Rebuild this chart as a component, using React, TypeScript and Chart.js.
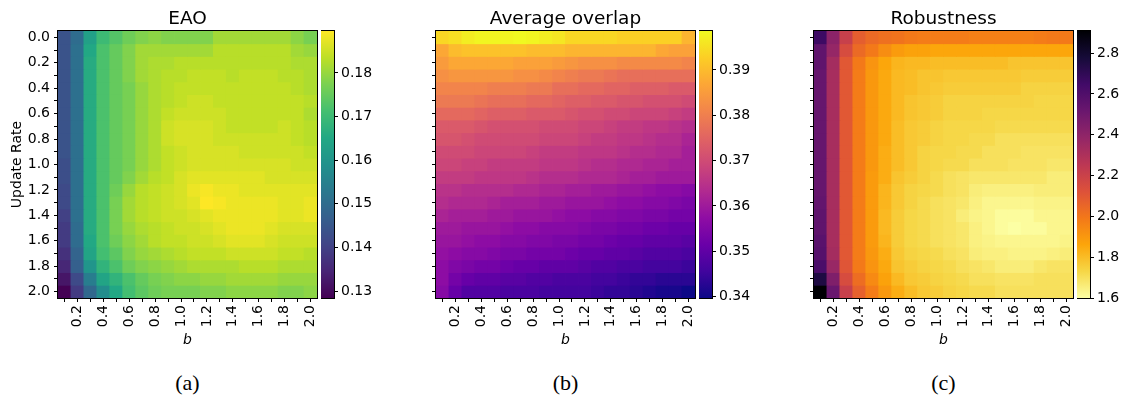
import React, { useEffect, useRef } from 'react';
import { Chart, registerables } from 'chart.js';

Chart.register(...registerables);

// ---------------- data ----------------
const bValues = [0.1, 0.2, 0.3, 0.4, 0.5, 0.6, 0.7, 0.8, 0.9, 1.0, 1.1, 1.2, 1.3, 1.4, 1.5, 1.6, 1.7, 1.8, 1.9, 2.0];
const updateRates = [0.0, 0.1, 0.2, 0.3, 0.4, 0.5, 0.6, 0.7, 0.8, 0.9, 1.0, 1.1, 1.2, 1.3, 1.4, 1.5, 1.6, 1.7, 1.8, 1.9, 2.0];

const eaoValues = [
  [0.144, 0.150, 0.163, 0.170, 0.173, 0.176, 0.178, 0.179, 0.178, 0.178, 0.178, 0.178, 0.181, 0.181, 0.181, 0.181, 0.181, 0.181, 0.179, 0.177],
  [0.144, 0.151, 0.165, 0.172, 0.175, 0.178, 0.181, 0.181, 0.181, 0.181, 0.181, 0.181, 0.183, 0.183, 0.183, 0.183, 0.183, 0.183, 0.181, 0.180],
  [0.144, 0.151, 0.166, 0.172, 0.175, 0.178, 0.181, 0.182, 0.182, 0.183, 0.183, 0.183, 0.183, 0.183, 0.183, 0.183, 0.183, 0.183, 0.182, 0.182],
  [0.144, 0.151, 0.166, 0.172, 0.175, 0.178, 0.181, 0.182, 0.183, 0.183, 0.184, 0.184, 0.184, 0.183, 0.184, 0.184, 0.184, 0.183, 0.183, 0.182],
  [0.144, 0.151, 0.166, 0.172, 0.175, 0.177, 0.180, 0.182, 0.183, 0.184, 0.184, 0.184, 0.184, 0.184, 0.184, 0.184, 0.184, 0.184, 0.183, 0.182],
  [0.144, 0.151, 0.166, 0.172, 0.175, 0.177, 0.180, 0.182, 0.183, 0.184, 0.185, 0.185, 0.184, 0.184, 0.184, 0.184, 0.184, 0.184, 0.184, 0.183],
  [0.144, 0.151, 0.166, 0.172, 0.175, 0.177, 0.180, 0.182, 0.184, 0.185, 0.185, 0.185, 0.185, 0.184, 0.184, 0.184, 0.184, 0.184, 0.184, 0.182],
  [0.144, 0.151, 0.166, 0.172, 0.175, 0.177, 0.180, 0.182, 0.185, 0.186, 0.186, 0.186, 0.185, 0.184, 0.184, 0.184, 0.184, 0.185, 0.184, 0.183],
  [0.144, 0.151, 0.166, 0.172, 0.175, 0.177, 0.180, 0.182, 0.185, 0.186, 0.186, 0.186, 0.185, 0.185, 0.185, 0.185, 0.185, 0.185, 0.184, 0.183],
  [0.144, 0.151, 0.166, 0.172, 0.175, 0.177, 0.180, 0.182, 0.184, 0.185, 0.186, 0.186, 0.186, 0.186, 0.185, 0.185, 0.185, 0.185, 0.185, 0.184],
  [0.143, 0.151, 0.166, 0.172, 0.175, 0.177, 0.180, 0.182, 0.184, 0.185, 0.186, 0.186, 0.186, 0.186, 0.186, 0.186, 0.186, 0.186, 0.185, 0.185],
  [0.143, 0.151, 0.166, 0.172, 0.175, 0.178, 0.181, 0.183, 0.184, 0.186, 0.187, 0.187, 0.187, 0.187, 0.187, 0.187, 0.186, 0.186, 0.186, 0.186],
  [0.142, 0.151, 0.166, 0.172, 0.176, 0.180, 0.183, 0.184, 0.185, 0.186, 0.188, 0.189, 0.188, 0.188, 0.187, 0.187, 0.187, 0.187, 0.187, 0.187],
  [0.142, 0.151, 0.166, 0.172, 0.177, 0.181, 0.183, 0.184, 0.185, 0.186, 0.187, 0.1896, 0.189, 0.188, 0.188, 0.188, 0.188, 0.187, 0.187, 0.188],
  [0.140, 0.151, 0.166, 0.172, 0.177, 0.181, 0.183, 0.184, 0.185, 0.185, 0.186, 0.187, 0.188, 0.188, 0.188, 0.188, 0.188, 0.187, 0.187, 0.188],
  [0.139, 0.150, 0.166, 0.172, 0.177, 0.180, 0.182, 0.183, 0.184, 0.185, 0.185, 0.186, 0.187, 0.188, 0.188, 0.188, 0.187, 0.186, 0.186, 0.186],
  [0.139, 0.150, 0.165, 0.172, 0.176, 0.179, 0.181, 0.183, 0.184, 0.184, 0.185, 0.185, 0.186, 0.187, 0.187, 0.187, 0.186, 0.185, 0.185, 0.185],
  [0.137, 0.148, 0.164, 0.171, 0.174, 0.178, 0.180, 0.181, 0.182, 0.183, 0.184, 0.184, 0.184, 0.185, 0.185, 0.185, 0.185, 0.184, 0.184, 0.183],
  [0.135, 0.147, 0.160, 0.168, 0.172, 0.176, 0.178, 0.179, 0.180, 0.181, 0.182, 0.182, 0.182, 0.182, 0.183, 0.183, 0.183, 0.182, 0.182, 0.182],
  [0.132, 0.142, 0.154, 0.164, 0.168, 0.172, 0.175, 0.177, 0.178, 0.179, 0.179, 0.180, 0.180, 0.181, 0.181, 0.181, 0.181, 0.180, 0.180, 0.180],
  [0.1284, 0.139, 0.149, 0.158, 0.165, 0.171, 0.174, 0.176, 0.177, 0.177, 0.177, 0.178, 0.178, 0.179, 0.179, 0.179, 0.179, 0.178, 0.178, 0.179],
];

const overlapValues = [
  [0.394, 0.395, 0.397, 0.398, 0.398, 0.398, 0.3986, 0.398, 0.397, 0.396, 0.394, 0.394, 0.394, 0.394, 0.393, 0.393, 0.393, 0.393, 0.393, 0.389],
  [0.387, 0.390, 0.391, 0.391, 0.391, 0.391, 0.391, 0.390, 0.390, 0.390, 0.389, 0.389, 0.389, 0.389, 0.389, 0.389, 0.389, 0.387, 0.386, 0.386],
  [0.385, 0.387, 0.387, 0.387, 0.387, 0.387, 0.386, 0.386, 0.386, 0.385, 0.384, 0.383, 0.383, 0.383, 0.382, 0.382, 0.382, 0.382, 0.382, 0.381],
  [0.383, 0.384, 0.384, 0.384, 0.384, 0.384, 0.383, 0.383, 0.382, 0.381, 0.380, 0.379, 0.379, 0.378, 0.377, 0.377, 0.377, 0.377, 0.377, 0.377],
  [0.381, 0.381, 0.381, 0.381, 0.380, 0.380, 0.380, 0.379, 0.379, 0.377, 0.377, 0.376, 0.376, 0.375, 0.375, 0.374, 0.374, 0.374, 0.373, 0.373],
  [0.379, 0.379, 0.379, 0.378, 0.377, 0.377, 0.377, 0.376, 0.376, 0.375, 0.374, 0.374, 0.373, 0.373, 0.372, 0.372, 0.371, 0.371, 0.371, 0.370],
  [0.376, 0.376, 0.376, 0.375, 0.374, 0.374, 0.374, 0.373, 0.373, 0.373, 0.372, 0.371, 0.371, 0.370, 0.370, 0.369, 0.369, 0.369, 0.368, 0.367],
  [0.373, 0.373, 0.373, 0.372, 0.371, 0.371, 0.371, 0.371, 0.370, 0.370, 0.370, 0.369, 0.369, 0.368, 0.367, 0.367, 0.366, 0.366, 0.365, 0.364],
  [0.372, 0.372, 0.371, 0.370, 0.370, 0.370, 0.370, 0.370, 0.369, 0.369, 0.369, 0.368, 0.367, 0.367, 0.366, 0.366, 0.365, 0.364, 0.364, 0.362],
  [0.370, 0.370, 0.370, 0.369, 0.369, 0.369, 0.369, 0.368, 0.367, 0.367, 0.367, 0.366, 0.366, 0.366, 0.365, 0.364, 0.364, 0.363, 0.363, 0.361],
  [0.369, 0.369, 0.368, 0.368, 0.367, 0.367, 0.367, 0.367, 0.366, 0.366, 0.366, 0.365, 0.364, 0.364, 0.363, 0.363, 0.362, 0.362, 0.361, 0.361],
  [0.367, 0.367, 0.367, 0.366, 0.366, 0.366, 0.366, 0.365, 0.364, 0.364, 0.364, 0.363, 0.363, 0.363, 0.362, 0.361, 0.361, 0.360, 0.360, 0.360],
  [0.365, 0.365, 0.364, 0.364, 0.364, 0.364, 0.363, 0.363, 0.362, 0.362, 0.361, 0.361, 0.360, 0.360, 0.359, 0.359, 0.358, 0.357, 0.357, 0.356],
  [0.364, 0.363, 0.363, 0.363, 0.362, 0.361, 0.361, 0.361, 0.360, 0.360, 0.359, 0.359, 0.359, 0.358, 0.357, 0.357, 0.356, 0.356, 0.355, 0.354],
  [0.362, 0.361, 0.361, 0.361, 0.360, 0.360, 0.359, 0.359, 0.359, 0.358, 0.357, 0.357, 0.356, 0.356, 0.355, 0.355, 0.354, 0.354, 0.353, 0.353],
  [0.360, 0.360, 0.359, 0.359, 0.359, 0.358, 0.357, 0.357, 0.356, 0.356, 0.356, 0.355, 0.354, 0.354, 0.353, 0.353, 0.352, 0.352, 0.351, 0.351],
  [0.359, 0.359, 0.358, 0.357, 0.357, 0.356, 0.356, 0.355, 0.355, 0.354, 0.354, 0.353, 0.353, 0.352, 0.351, 0.351, 0.350, 0.350, 0.350, 0.349],
  [0.358, 0.357, 0.356, 0.356, 0.355, 0.354, 0.354, 0.353, 0.353, 0.353, 0.352, 0.351, 0.351, 0.350, 0.350, 0.349, 0.348, 0.348, 0.348, 0.347],
  [0.357, 0.355, 0.354, 0.353, 0.353, 0.352, 0.351, 0.351, 0.350, 0.350, 0.350, 0.349, 0.348, 0.348, 0.347, 0.347, 0.346, 0.346, 0.346, 0.345],
  [0.357, 0.353, 0.351, 0.350, 0.350, 0.349, 0.349, 0.348, 0.348, 0.347, 0.347, 0.347, 0.346, 0.346, 0.345, 0.344, 0.344, 0.343, 0.343, 0.343],
  [0.356, 0.351, 0.348, 0.348, 0.348, 0.347, 0.347, 0.347, 0.346, 0.346, 0.346, 0.346, 0.345, 0.344, 0.344, 0.343, 0.342, 0.341, 0.341, 0.3397],
];

const robustnessValues = [
  [2.66, 2.41, 2.21, 2.08, 2.04, 2.02, 2.01, 1.99, 1.98, 1.98, 1.98, 1.98, 1.97, 1.97, 1.97, 1.97, 1.97, 1.98, 1.99, 1.99],
  [2.55, 2.38, 2.15, 2.04, 1.99, 1.93, 1.89, 1.87, 1.87, 1.86, 1.86, 1.86, 1.86, 1.86, 1.86, 1.86, 1.86, 1.86, 1.86, 1.86],
  [2.55, 2.33, 2.10, 1.99, 1.91, 1.86, 1.82, 1.81, 1.81, 1.80, 1.80, 1.80, 1.80, 1.80, 1.80, 1.78, 1.78, 1.78, 1.78, 1.78],
  [2.53, 2.32, 2.10, 1.98, 1.90, 1.85, 1.81, 1.80, 1.78, 1.78, 1.77, 1.77, 1.77, 1.77, 1.77, 1.77, 1.76, 1.76, 1.76, 1.76],
  [2.53, 2.32, 2.10, 1.98, 1.90, 1.85, 1.81, 1.80, 1.78, 1.77, 1.76, 1.76, 1.76, 1.76, 1.76, 1.76, 1.74, 1.74, 1.74, 1.74],
  [2.53, 2.32, 2.10, 1.98, 1.90, 1.85, 1.81, 1.78, 1.77, 1.76, 1.74, 1.74, 1.74, 1.74, 1.74, 1.74, 1.74, 1.73, 1.73, 1.73],
  [2.53, 2.32, 2.10, 1.98, 1.90, 1.85, 1.81, 1.78, 1.77, 1.76, 1.74, 1.74, 1.74, 1.73, 1.73, 1.73, 1.73, 1.73, 1.73, 1.73],
  [2.53, 2.32, 2.10, 1.98, 1.90, 1.85, 1.80, 1.77, 1.76, 1.74, 1.73, 1.73, 1.73, 1.73, 1.72, 1.72, 1.72, 1.72, 1.72, 1.72],
  [2.53, 2.32, 2.10, 1.98, 1.90, 1.85, 1.80, 1.77, 1.76, 1.74, 1.73, 1.73, 1.72, 1.72, 1.70, 1.70, 1.70, 1.70, 1.70, 1.70],
  [2.53, 2.32, 2.10, 1.98, 1.90, 1.84, 1.80, 1.77, 1.74, 1.73, 1.73, 1.72, 1.72, 1.70, 1.70, 1.70, 1.69, 1.69, 1.69, 1.69],
  [2.53, 2.32, 2.10, 1.98, 1.90, 1.84, 1.80, 1.77, 1.74, 1.73, 1.72, 1.72, 1.70, 1.70, 1.70, 1.69, 1.69, 1.69, 1.68, 1.68],
  [2.53, 2.32, 2.10, 1.98, 1.89, 1.84, 1.78, 1.76, 1.74, 1.72, 1.70, 1.69, 1.68, 1.68, 1.68, 1.68, 1.68, 1.68, 1.66, 1.66],
  [2.53, 2.32, 2.10, 1.98, 1.89, 1.82, 1.77, 1.74, 1.73, 1.72, 1.70, 1.69, 1.66, 1.65, 1.65, 1.65, 1.65, 1.66, 1.66, 1.66],
  [2.54, 2.32, 2.10, 1.98, 1.89, 1.82, 1.77, 1.74, 1.72, 1.70, 1.69, 1.68, 1.65, 1.63, 1.63, 1.63, 1.63, 1.64, 1.64, 1.64],
  [2.55, 2.32, 2.10, 1.98, 1.89, 1.81, 1.76, 1.73, 1.72, 1.70, 1.69, 1.66, 1.64, 1.63, 1.61, 1.61, 1.61, 1.63, 1.63, 1.63],
  [2.55, 2.32, 2.10, 1.98, 1.89, 1.81, 1.76, 1.73, 1.72, 1.70, 1.69, 1.68, 1.65, 1.63, 1.61, 1.60, 1.61, 1.61, 1.63, 1.63],
  [2.57, 2.32, 2.10, 1.98, 1.89, 1.82, 1.76, 1.73, 1.72, 1.70, 1.69, 1.68, 1.65, 1.64, 1.63, 1.63, 1.63, 1.63, 1.63, 1.64],
  [2.58, 2.33, 2.10, 1.98, 1.90, 1.84, 1.77, 1.74, 1.73, 1.72, 1.70, 1.69, 1.66, 1.65, 1.65, 1.64, 1.64, 1.64, 1.65, 1.66],
  [2.62, 2.37, 2.11, 1.99, 1.91, 1.85, 1.78, 1.76, 1.74, 1.73, 1.72, 1.70, 1.69, 1.68, 1.66, 1.66, 1.66, 1.68, 1.69, 1.69],
  [2.75, 2.45, 2.15, 2.03, 1.94, 1.87, 1.81, 1.77, 1.76, 1.74, 1.73, 1.72, 1.70, 1.70, 1.69, 1.69, 1.69, 1.70, 1.70, 1.70],
  [2.908, 2.52, 2.21, 2.07, 1.98, 1.90, 1.84, 1.80, 1.77, 1.76, 1.74, 1.73, 1.72, 1.72, 1.70, 1.70, 1.70, 1.70, 1.70, 1.70],
];

const eaoTicks = [0.13, 0.14, 0.15, 0.16, 0.17, 0.18];
const overlapTicks = [0.34, 0.35, 0.36, 0.37, 0.38, 0.39];
const robustnessTicks = [1.6, 1.8, 2.0, 2.2, 2.4, 2.6, 2.8];

// ---------------- colormaps ----------------
const VIRIDIS = ['#440154', '#482475', '#414487', '#355f8d', '#2a788e', '#21918c', '#22a884', '#44bf70', '#7ad151', '#bddf26', '#fde725'];
const PLASMA = ['#0d0887', '#41049d', '#6a00a8', '#8f0da4', '#b12a90', '#cc4778', '#e16462', '#f2844b', '#fca636', '#fcce25', '#f0f921'];
const INFERNO = ['#000004', '#160b39', '#420a68', '#6a176e', '#932667', '#bc3754', '#dd513a', '#f37819', '#fca50a', '#f6d746', '#fcffa4'];
const INFERNO_R = INFERNO.slice().reverse();

function hexToRgb(h: string) {
  return [parseInt(h.slice(1, 3), 16), parseInt(h.slice(3, 5), 16), parseInt(h.slice(5, 7), 16)];
}
function colorAt(stops: string[], t: number) {
  const tt = Math.max(0, Math.min(1, t));
  const pos = tt * (stops.length - 1);
  const i = Math.min(stops.length - 2, Math.floor(pos));
  const f = pos - i;
  const a = hexToRgb(stops[i]);
  const b = hexToRgb(stops[i + 1]);
  const c = a.map((v, k) => Math.round(v + (b[k] - v) * f));
  return `rgb(${c[0]},${c[1]},${c[2]})`;
}

// ---------------- layout ----------------
const FONT = "'DejaVu Sans', sans-serif";
const TICK_SIZE = 14;
const TITLE_SIZE = 18.5;
const PLOT_TOP = 31;
const PLOT_BOTTOM = 298;
const PLOT_W = 259;
const Y_AXIS_W = 58;
const X_AXIS_H = 51;
const PAD_R = 14;
const CB_W = 13;
const CB_AXIS_W = 50;

const framePlugin = {
  id: 'frame',
  afterDraw(chart: any) {
    const { ctx, chartArea: a } = chart;
    ctx.save();
    ctx.strokeStyle = '#000';
    ctx.lineWidth = 1;
    ctx.strokeRect(a.left - 0.5, a.top - 0.5, a.right - a.left + 1, a.bottom - a.top + 1);
    ctx.restore();
  },
};

function Heatmap(props: { left: number; title: string; values: number[][]; cmap: string[]; showYLabels: boolean }) {
  const ref = useRef<HTMLCanvasElement>(null);
  const W = Y_AXIS_W + PLOT_W + PAD_R;
  const H = PLOT_BOTTOM + X_AXIS_H;
  useEffect(() => {
    const { values, cmap, title, showYLabels } = props;
    const flat = values.flat();
    const vmin = Math.min(...flat);
    const vmax = Math.max(...flat);
    const bLabels = bValues.map((v) => v.toFixed(1));
    const titlePadTop = 7.9;
    const chart = new Chart(ref.current as HTMLCanvasElement, {
      type: 'bar',
      data: {
        labels: bLabels,
        datasets: updateRates.map((rate, r) => ({
          label: rate.toFixed(1),
          data: bValues.map(() => [r - 0.5, r + 0.5]),
          backgroundColor: values[r].map((v) => colorAt(cmap, (v - vmin) / (vmax - vmin))),
          borderWidth: 0,
          grouped: false,
          barPercentage: 1,
          categoryPercentage: 1,
          inflateAmount: 0.4,
        })) as any,
      },
      options: {
        responsive: false,
        animation: false,
        events: [],
        layout: { padding: { left: 0, right: PAD_R, top: 0, bottom: 0 } },
        plugins: {
          legend: { display: false },
          tooltip: { enabled: false },
          title: {
            display: true,
            text: title,
            fullSize: false,
            color: '#000',
            font: { family: FONT, size: TITLE_SIZE, weight: 'normal', lineHeight: 1.2 },
            padding: { top: titlePadTop, bottom: PLOT_TOP - titlePadTop - TITLE_SIZE * 1.2 },
          },
        },
        scales: {
          x: {
            type: 'category',
            offset: true,
            afterFit: (s: any) => {
              s.height = X_AXIS_H;
            },
            grid: { offset: false, drawOnChartArea: false, tickLength: 4, color: '#000', tickColor: '#000' },
            border: { display: false },
            ticks: {
              autoSkip: false,
              minRotation: 90,
              maxRotation: 90,
              padding: 3,
              color: '#000',
              font: { family: FONT, size: TICK_SIZE },
              callback: (_v: any, i: number) => (i % 2 === 1 ? bLabels[i] : ''),
            },
            title: {
              display: true,
              text: 'b',
              color: '#000',
              font: { family: FONT, size: TICK_SIZE, style: 'italic', lineHeight: 1.2 },
              padding: { top: 0, bottom: 0 },
            },
          },
          y: {
            type: 'linear',
            min: -0.5,
            max: updateRates.length - 0.5,
            reverse: true,
            afterFit: (s: any) => {
              s.width = Y_AXIS_W;
            },
            afterBuildTicks: (s: any) => {
              s.ticks = updateRates.map((_r, i) => ({ value: i }));
            },
            grid: { drawOnChartArea: false, tickLength: 4, color: '#000', tickColor: '#000' },
            border: { display: false },
            ticks: {
              autoSkip: false,
              padding: 4,
              color: '#000',
              font: { family: FONT, size: TICK_SIZE },
              callback: (v: any) => (showYLabels && Number(v) % 2 === 0 ? updateRates[Number(v)].toFixed(1) : ''),
            },
            title: {
              display: showYLabels,
              text: 'Update Rate',
              color: '#000',
              font: { family: FONT, size: TICK_SIZE, lineHeight: 1.2 },
              padding: { top: 8.5, bottom: 0 },
            },
          },
        },
      } as any,
      plugins: [framePlugin],
    });
    return () => chart.destroy();
  }, []);
  return (
    <canvas
      ref={ref}
      width={W}
      height={H}
      style={{ position: 'absolute', left: props.left - Y_AXIS_W, top: 0, width: W, height: H }}
    />
  );
}

function Colorbar(props: { left: number; values: number[][]; cmap: string[]; ticks: number[]; decimals: number }) {
  const ref = useRef<HTMLCanvasElement>(null);
  const W = CB_W + CB_AXIS_W;
  const H = 310;
  useEffect(() => {
    const { values, cmap, ticks, decimals } = props;
    const flat = values.flat();
    const vmin = Math.min(...flat);
    const vmax = Math.max(...flat);
    const gradientPlugin = {
      id: 'cbGradient',
      beforeDatasetsDraw(chart: any) {
        const { ctx, chartArea: a } = chart;
        const y = chart.scales.y;
        const g = ctx.createLinearGradient(0, y.getPixelForValue(vmin), 0, y.getPixelForValue(vmax));
        cmap.forEach((c, i) => g.addColorStop(i / (cmap.length - 1), c));
        ctx.save();
        ctx.fillStyle = g;
        ctx.fillRect(a.left, a.top, a.right - a.left, a.bottom - a.top);
        ctx.restore();
      },
    };
    const chart = new Chart(ref.current as HTMLCanvasElement, {
      type: 'bar',
      data: { labels: [''], datasets: [] },
      options: {
        responsive: false,
        animation: false,
        events: [],
        layout: { padding: { left: 0, right: 0, top: PLOT_TOP, bottom: H - PLOT_BOTTOM } },
        plugins: { legend: { display: false }, tooltip: { enabled: false } },
        scales: {
          x: { display: false },
          y: {
            type: 'linear',
            position: 'right',
            min: vmin,
            max: vmax,
            afterFit: (s: any) => {
              s.width = CB_AXIS_W;
            },
            afterBuildTicks: (s: any) => {
              s.ticks = ticks.map((v) => ({ value: v }));
            },
            grid: { drawOnChartArea: false, tickLength: 4, color: '#000', tickColor: '#000' },
            border: { display: false },
            ticks: {
              autoSkip: false,
              padding: 3,
              color: '#000',
              font: { family: FONT, size: TICK_SIZE },
              callback: (v: any) => Number(v).toFixed(decimals),
            },
          },
        },
      } as any,
      plugins: [gradientPlugin, framePlugin],
    });
    return () => chart.destroy();
  }, []);
  return (
    <canvas
      ref={ref}
      width={W}
      height={H}
      style={{ position: 'absolute', left: props.left, top: 0, width: W, height: H }}
    />
  );
}

function Caption(props: { center: number; text: string }) {
  return (
    <div
      style={{
        position: 'absolute',
        left: props.center - 50,
        width: 100,
        top: 369,
        textAlign: 'center',
        fontFamily: "'Liberation Serif', serif",
        fontSize: 22,
        lineHeight: '28px',
        color: '#000',
      }}
    >
      {props.text}
    </div>
  );
}

const PANEL_LEFTS = [58, 436, 814];

export default function App() {
  return (
    <div style={{ position: 'absolute', left: 0, top: 0, width: 1129, height: 403, background: '#fff', overflow: 'hidden' }}>
      <Heatmap left={PANEL_LEFTS[0]} title="EAO" values={eaoValues} cmap={VIRIDIS} showYLabels={true} />
      <Colorbar left={PANEL_LEFTS[0] + PLOT_W + 4} values={eaoValues} cmap={VIRIDIS} ticks={eaoTicks} decimals={2} />
      <Caption center={PANEL_LEFTS[0] + PLOT_W / 2} text="(a)" />

      <Heatmap left={PANEL_LEFTS[1]} title="Average overlap" values={overlapValues} cmap={PLASMA} showYLabels={false} />
      <Colorbar left={PANEL_LEFTS[1] + PLOT_W + 4} values={overlapValues} cmap={PLASMA} ticks={overlapTicks} decimals={2} />
      <Caption center={PANEL_LEFTS[1] + PLOT_W / 2} text="(b)" />

      <Heatmap left={PANEL_LEFTS[2]} title="Robustness" values={robustnessValues} cmap={INFERNO_R} showYLabels={false} />
      <Colorbar left={PANEL_LEFTS[2] + PLOT_W + 4} values={robustnessValues} cmap={INFERNO_R} ticks={robustnessTicks} decimals={1} />
      <Caption center={PANEL_LEFTS[2] + PLOT_W / 2} text="(c)" />
    </div>
  );
}
